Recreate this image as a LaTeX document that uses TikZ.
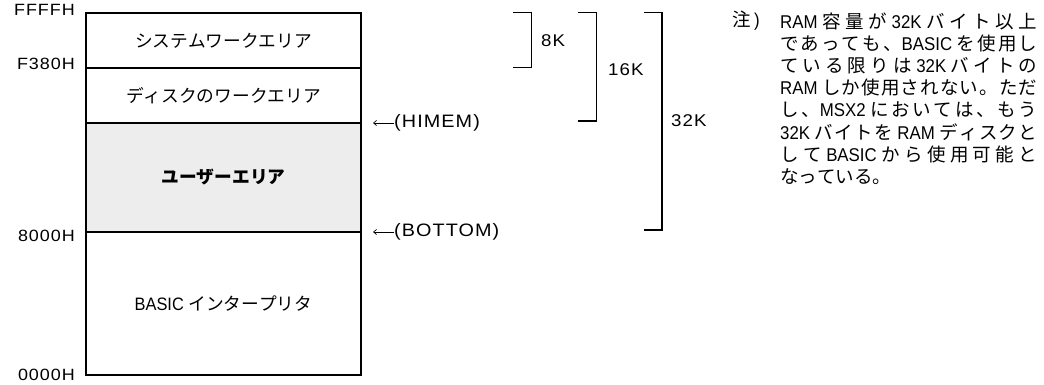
\documentclass[tikz,border=0pt]{standalone}
\usepackage{fontspec}
\setmainfont{Liberation Sans}
\newfontfamily\jp{Noto Sans CJK JP}
\newfontfamily\latc[FakeStretch=0.91]{Liberation Sans}
\newfontfamily\addrfont[FakeStretch=1.1,LetterSpace=6]{Liberation Sans}
\usetikzlibrary{arrows.meta}
% stretchable glue between Japanese characters (for justified note lines)
\XeTeXinterchartokenstate=1
\newcount\jpcc
\jpcc="3000 \loop \XeTeXcharclass\jpcc=1 \advance\jpcc 1 \ifnum\jpcc<"3100 \repeat
\jpcc="4E00 \loop \XeTeXcharclass\jpcc=1 \advance\jpcc 1 \ifnum\jpcc<"A000 \repeat
\XeTeXinterchartoks 1 1 = {\hskip 0pt plus 1fil\relax}
\begin{document}
\begin{tikzpicture}[x=1pt,y=-1pt,
  region/.style={draw, line width=1.3pt, minimum width=275pt, inner sep=0pt, font=\latc\fontsize{18}{18}\selectfont},
  addr/.style={anchor=east, inner sep=0pt, font=\addrfont\fontsize{16.3}{18}\selectfont},
  ptr/.style={anchor=west, inner sep=0pt, font=\addrfont\fontsize{18}{18}\selectfont},
  brk/.style={line width=1.1pt},
  size/.style={anchor=west, inner sep=0pt, font=\addrfont\fontsize{17}{18}\selectfont},
  note/.style={anchor=west, inner sep=0pt, font=\latc\fontsize{18.5}{18}\selectfont}]
\useasboundingbox (0,0) rectangle (1044,385);
\newcommand\J[1]{{\jp\fontsize{17.7}{18}\selectfont #1}}
\newcommand\N[1]{{\jp\fontsize{18.5}{18}\selectfont #1}}
\newcommand\NL[1]{\makebox[257pt][s]{#1}}
% memory map
\node[region, minimum height=55pt] (sys) at (223.5,40.5) {\J{システムワークエリア}};
\node[region, minimum height=55pt] (disk) at (223.5,95.5) {\J{ディスクのワークエリア}};
\node[region, minimum height=109pt, fill=black!7] (user) at (223.5,177.5) {\J{\bfseries ユーザーエリア}};
\node[region, minimum height=143pt] (basic) at (223.5,303.5) {BASIC \J{インタープリタ}};
% addresses
\node[addr] (a1) at (75,10) {FFFFH};
\node[addr] (a2) at (75,64) {F380H};
\node[addr] (a3) at (75,236) {8000H};
\node[addr] (a4) at (75,375) {0000H};
% pointers
\node[ptr] (himem) at (394,123) {(HIMEM)};
\node[ptr] (bottom) at (394,232) {(BOTTOM)};
\coordinate (hiend) at (373,123);
\coordinate (boend) at (373,232);
\draw[line width=0.7pt, -{Straight Barb[length=3pt,width=5pt]}] (himem.west) -- (hiend);
\draw[line width=0.7pt, -{Straight Barb[length=3pt,width=5pt]}] (bottom.west) -- (boend);
% brackets
\coordinate (b1a) at (513,12.5); \coordinate (b1b) at (531.5,12.5);
\coordinate (b1c) at (531.5,67.5); \coordinate (b1d) at (513,67.5);
\draw[brk] (b1a) -- (b1b) -- (b1c) -- (b1d);
\node[size] (k8) at (541,41) {8K};
\coordinate (b2a) at (578,12.5); \coordinate (b2b) at (596.5,12.5);
\coordinate (b2c) at (596.5,121); \coordinate (b2d) at (578,121);
\draw[brk] (b2a) -- (b2b) -- (b2c) -- (b2d);
\node[size] (k16) at (608,70) {16K};
\coordinate (b3a) at (644,12.5); \coordinate (b3b) at (662,12.5);
\coordinate (b3c) at (662,230); \coordinate (b3d) at (644,230);
\draw[brk] (b3a) -- (b3b) -- (b3c) -- (b3d);
\node[size] (k32) at (671,121) {32K};
% note
\node[note, anchor=east] (nh) at (760,21) {\N{注}\,)};
\node[note] (n1) at (780,21) {\NL{RAM \N{容量が} 32K \N{バイト以上}}};
\node[note] (n2) at (780,43.2) {\NL{\N{であっても、}BASIC \N{を使用し}}};
\node[note] (n3) at (780,65.4) {\NL{\N{ている限りは} 32K \N{バイトの}}};
\node[note] (n4) at (780,87.6) {\NL{RAM \N{しか使用されない。ただ}}};
\node[note] (n5) at (780,109.8) {\NL{\N{し、}MSX2 \N{においては、もう}}};
\node[note] (n6) at (780,132) {\NL{32K \N{バイトを} RAM \N{ディスクと}}};
\node[note] (n7) at (780,154.2) {\NL{\N{して} BASIC \N{から使用可能と}}};
\node[note] (n8) at (780,176.4) {\N{なっている。}};
\end{tikzpicture}
\end{document}
